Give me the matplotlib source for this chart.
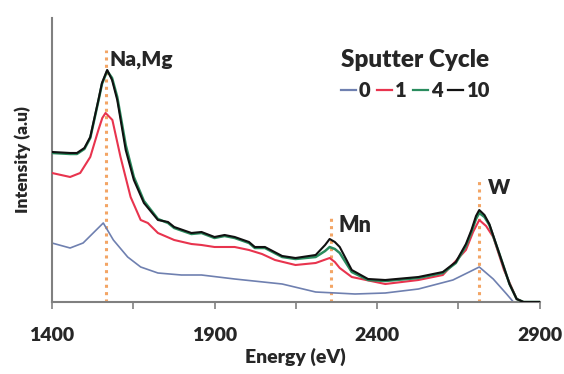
import matplotlib
matplotlib.use("Agg")
import matplotlib.pyplot as plt
from matplotlib.lines import Line2D

plt.rcParams['font.family'] = ['Lato', 'DejaVu Sans']

# ---- data ----
e10 = [1400, 1456, 1477, 1500, 1518, 1543, 1554, 1570, 1585, 1601, 1614, 1627, 1652,
       1683, 1726, 1757, 1776, 1829, 1860, 1900, 1931, 1962, 2006, 2024, 2055, 2108,
       2149, 2211, 2240, 2254, 2270, 2285, 2322, 2372, 2425, 2527, 2602, 2642, 2673,
       2690, 2704, 2714, 2730, 2745, 2776, 2807, 2829, 2850, 2900]
i10 = [150, 149, 149, 154, 165, 202, 219, 232, 222, 202, 177, 152, 122,
       99, 82, 80, 75, 69, 70, 65, 67, 65, 60, 55, 55, 46,
       44, 47, 57, 63, 60, 55, 32, 23, 22, 25, 30, 40, 58,
       72, 86, 92, 87, 78, 48, 18, 3, 0, 0]

e4 = [1400, 1456, 1477, 1500, 1518, 1543, 1554, 1570, 1585, 1601, 1614, 1627, 1652,
      1683, 1726, 1757, 1776, 1829, 1860, 1900, 1931, 1962, 2006, 2024, 2055, 2108,
      2149, 2211, 2240, 2254, 2270, 2285, 2322, 2372, 2425, 2527, 2602, 2642, 2673,
      2690, 2704, 2714, 2730, 2745, 2776, 2807, 2829, 2850, 2900]
i4 = [149, 148, 148, 153, 164, 201, 218, 231, 224, 205, 181, 157, 125,
      101, 83, 79, 74, 68, 69, 64, 66, 64, 59, 54, 54, 45,
      43, 45, 51, 55, 53, 49, 30, 22, 21, 24, 29, 39, 56,
      70, 83, 89, 85, 77, 48, 18, 3, 0, 0]

e1 = [1400, 1456, 1487, 1518, 1543, 1555, 1565, 1586, 1611, 1642, 1673, 1695, 1726,
      1776, 1829, 1860, 1900, 1962, 2006, 2046, 2086, 2149, 2211, 2254, 2270, 2285,
      2322, 2425, 2527, 2602, 2673, 2695, 2714, 2735, 2757, 2790, 2829, 2850, 2900]
i1 = [129, 125, 129, 145, 172, 184, 189, 182, 145, 105, 82, 79, 69,
      62, 58, 57, 55, 55, 52, 48, 42, 37, 39, 44, 40, 34,
      25, 18, 22, 27, 52, 70, 82, 76, 65, 32, 3, 0, 0]

e0 = [1400, 1456, 1496, 1527, 1558, 1589, 1633, 1673, 1726, 1798, 1860, 1962, 2108,
      2211, 2273, 2332, 2425, 2527, 2633, 2683, 2714, 2757, 2798, 2819, 2850, 2900]
i0 = [59, 54, 59, 69, 79, 62, 45, 35, 29, 27, 27, 23, 18,
      10, 9, 8, 9, 13, 22, 30, 35, 23, 8, 0, 0, 0]

series_labels = ['0', '1', '4', '10']
peak_names = ['Na,Mg', 'Mn', 'W']
peak_energies = [1565, 2257, 2714]
peak_heights = [252, 87, 124]

x_ticks = [1400, 1650, 1900, 2150, 2400, 2650, 2900]
x_ticklabels = ['1400', '', '1900', '', '2400', '', '2900']

# ---- figure ----
fig = plt.figure(figsize=(5.64, 3.74), dpi=100)
ax = fig.add_axes([0.092, 0.1925, 0.865, 0.7595])

txt = '#262626'
colors = {'0': '#6f80b0', '1': '#e8344e', '4': '#2a8c5e', '10': '#111111'}

for x, h in zip(peak_energies, peak_heights):
    ax.plot([x, x], [0, h], color='#f3a565', lw=2.2, ls=(0, (1, 1.4)), zorder=1)

ax.plot(e0, i0, color=colors['0'], lw=1.2, zorder=2)
ax.plot(e1, i1, color=colors['1'], lw=1.5, zorder=3)
ax.plot(e4, i4, color=colors['4'], lw=1.8, zorder=4)
ax.plot(e10, i10, color=colors['10'], lw=1.5, zorder=5)

ax.set_xlim(1400, 2900)
ax.set_ylim(0, 284)
ax.set_xticks(x_ticks)
ax.set_xticklabels(x_ticklabels)
ax.set_yticks([])
for s in ['top', 'right']:
    ax.spines[s].set_visible(False)
for s in ['left', 'bottom']:
    ax.spines[s].set_color('#808080')
    ax.spines[s].set_linewidth(1.5)
ax.tick_params(axis='x', direction='out', length=5, width=1.2, color='#808080',
               labelsize=14, labelcolor=txt, pad=13)
for lab in ax.get_xticklabels():
    lab.set_fontweight('heavy')

ax.set_xlabel('Energy (eV)', fontsize=14, fontweight='heavy', color=txt, labelpad=3)
ax.set_ylabel('Intensity (a.u)', fontsize=12.5, fontweight='heavy', color=txt, labelpad=15)

# peak labels
ax.text(1578, 242, peak_names[0], fontsize=15, fontweight='heavy', color=txt, va='center', ha='left')
ax.text(2280, 76, peak_names[1], fontsize=15.5, fontweight='heavy', color=txt, va='center', ha='left')
ax.text(2740, 114, peak_names[2], fontsize=15, fontweight='heavy', color=txt, va='center', ha='left')

handles = [Line2D([0], [0], color=colors[k], lw=1.6) for k in series_labels]
leg = ax.legend(handles, series_labels, title='Sputter Cycle', ncol=4, frameon=False,
                loc='center', bbox_to_anchor=(0.745, 0.80), handlelength=0.75,
                handletextpad=0.15, columnspacing=0.3, borderpad=0.1,
                prop={'weight': 'heavy', 'size': 14.5},
                title_fontproperties={'weight': 'heavy', 'size': 17.5})
for t in leg.get_texts():
    t.set_color(txt)
leg.get_title().set_color(txt)

fig.savefig('out.png', dpi=100)
